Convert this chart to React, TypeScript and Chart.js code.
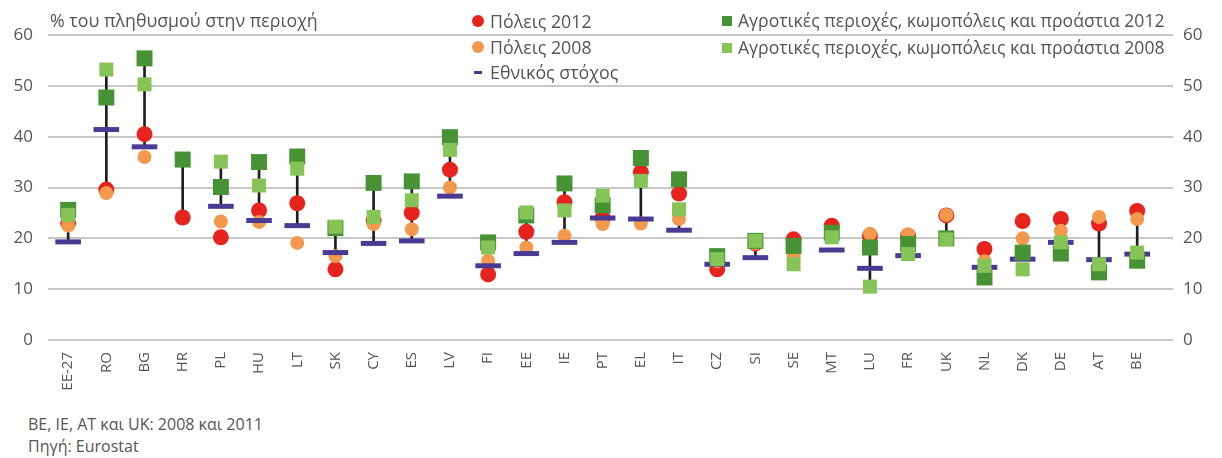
import React, { useEffect, useRef } from "react";
import { Chart, registerables } from "chart.js";

Chart.register(...registerables);

const categories = ["EE-27", "RO", "BG", "HR", "PL", "HU", "LT", "SK", "CY", "ES", "LV", "FI", "EE", "IE", "PT", "EL", "IT", "CZ", "SI", "SE", "MT", "LU", "FR", "UK", "NL", "DK", "DE", "AT", "BE"];

const cities2012 = [23.0, 29.6, 40.5, 24.1, 20.2, 25.5, 26.9, 13.9, 23.5, 25.0, 33.5, 12.9, 21.3, 27.1, 24.0, 33.0, 28.8, 13.9, 19.0, 19.8, 22.5, 20.5, 20.5, 24.5, 17.9, 23.4, 23.8, 22.9, 25.4];
const cities2008 = [22.5, 28.9, 36.0, null, 23.3, 23.2, 19.1, 16.5, 22.8, 21.8, 30.0, 15.6, 18.2, 20.5, 22.8, 22.9, 23.8, 15.5, 19.0, 16.6, 21.0, 20.9, 20.8, 24.6, 15.5, 20.0, 21.5, 24.2, 23.8];
const rural2012 = [25.6, 47.7, 55.4, 35.5, 30.1, 35.0, 36.1, 22.0, 30.9, 31.2, 39.9, 19.2, 24.5, 30.8, 26.5, 35.8, 31.6, 16.5, 19.5, 18.5, 21.1, 18.2, 18.9, 20.0, 12.3, 17.2, 17.0, 13.3, 15.6];
const rural2008 = [24.6, 53.2, 50.3, null, 35.1, 30.4, 33.7, 22.3, 24.2, 27.5, 37.4, 18.2, 25.1, 25.5, 28.4, 31.3, 25.7, 15.9, 19.5, 14.9, 20.2, 10.5, 16.9, 19.8, 14.6, 13.9, 19.2, 14.9, 17.2];
const nationalTarget = [19.3, 41.4, 38.0, null, 26.3, 23.5, 22.5, 17.2, 19.0, 19.5, 28.3, 14.6, 17.0, 19.2, 24.0, 23.8, 21.6, 14.9, 16.2, null, 17.7, 14.1, 16.6, null, 14.3, 15.9, 19.2, 15.8, 16.9];

const rangeLow = [19.3, 29.0, 38.0, 24.1, 26.3, 23.5, 22.5, 17.2, 19.0, 19.5, 28.3, 14.6, 17.0, 19.2, 24.0, 23.8, 21.6, null, 16.2, null, null, 10.5, null, 19.8, null, null, null, 15.8, 16.9];
const rangeHigh = [25.6, 53.2, 55.4, 35.5, 35.1, 35.0, 36.1, 22.4, 30.9, 31.2, 39.9, 19.2, 25.1, 30.8, 28.4, 31.3, 25.7, null, 19.5, null, null, 18.2, null, 24.6, null, null, null, 22.9, 23.8];

const yTicks = [0, 10, 20, 30, 40, 50, 60];

const titleText = "% του πληθυσμού στην περιοχή";
const legendCities2012 = "Πόλεις 2012";
const legendCities2008 = "Πόλεις 2008";
const legendTarget = "Εθνικός στόχος";
const legendRural2012 = "Αγροτικές περιοχές, κωμοπόλεις και προάστια 2012";
const legendRural2008 = "Αγροτικές περιοχές, κωμοπόλεις και προάστια 2008";
const note1 = "BE, IE, AT και UK: 2008 και 2011";
const note2 = "Πηγή: Eurostat";

const FONT = "'Open Sans', 'DejaVu Sans', sans-serif";
const TEXT = "#555555";
const RED = "#e6231d";
const ORANGE = "#f2994e";
const DARK_GREEN = "#479234";
const LIGHT_GREEN = "#86c457";
const NAVY = "#4b3a93";

const toPoints = (arr: (number | null)[]) =>
  arr.map((v, i) => ({ x: i, y: v }));

export default function App() {
  const ref = useRef<HTMLCanvasElement>(null);

  useEffect(() => {
    document.body.style.margin = "0";
    const rangeData: any[] = [];
    categories.forEach((_, i) => {
      if (rangeLow[i] != null && rangeHigh[i] != null) {
        rangeData.push({ x: i, y: [rangeLow[i], rangeHigh[i]] });
      }
    });
    const chart = new Chart(ref.current as HTMLCanvasElement, {
      type: "scatter",
      data: {
        datasets: [
          {
            type: "bar",
            data: rangeData,
            backgroundColor: "#1e1e1e",
            barThickness: 2,
            order: 6,
          } as any,
          {
            data: toPoints(cities2012),
            pointStyle: "circle",
            pointRadius: 8,
            backgroundColor: RED,
            borderColor: RED,
            borderWidth: 0,
            order: 5,
          },
          {
            data: toPoints(cities2008),
            pointStyle: "circle",
            pointRadius: 7,
            backgroundColor: ORANGE,
            borderColor: ORANGE,
            borderWidth: 0,
            order: 4,
          },
          {
            data: toPoints(nationalTarget),
            pointStyle: "line",
            pointRadius: 12.8,
            backgroundColor: NAVY,
            borderColor: NAVY,
            borderWidth: 5,
            order: 3,
          },
          {
            data: toPoints(rural2012),
            pointStyle: "rect",
            pointRadius: 11.3,
            backgroundColor: DARK_GREEN,
            borderColor: DARK_GREEN,
            borderWidth: 0,
            order: 2,
          },
          {
            data: toPoints(rural2008),
            pointStyle: "rect",
            pointRadius: 9.9,
            backgroundColor: LIGHT_GREEN,
            borderColor: LIGHT_GREEN,
            borderWidth: 0,
            order: 1,
          },
        ],
      },
      options: {
        responsive: false,
        animation: false,
        layout: { padding: { top: 35, left: 0, right: 0, bottom: 0 } },
        plugins: { legend: { display: false }, tooltip: { enabled: false } },
        scales: {
          x: {
            type: "linear",
            min: -0.02,
            max: 28.43,
            grid: { display: false, drawTicks: false },
            border: { display: false },
            afterBuildTicks: (s: any) => {
              s.ticks = categories.map((_, i) => ({ value: i }));
            },
            afterFit: (s: any) => {
              s.height = 60;
            },
            ticks: {
              autoSkip: false,
              minRotation: 90,
              maxRotation: 90,
              padding: 12,
              color: TEXT,
              font: { family: FONT, size: 15 },
              callback: (v: any) => categories[v as number] ?? "",
            },
          },
          y: {
            position: "left",
            min: 0,
            max: 60,
            afterBuildTicks: (s: any) => {
              s.ticks = yTicks.map((v) => ({ value: v }));
            },
            afterFit: (s: any) => {
              s.width = 48;
            },
            ticks: { padding: 15, color: TEXT, font: { family: FONT, size: 17 } },
            grid: { color: "#c8c8c8", lineWidth: 2, drawTicks: false },
            border: { display: false },
          },
          y2: {
            position: "right",
            min: 0,
            max: 60,
            afterBuildTicks: (s: any) => {
              s.ticks = yTicks.map((v) => ({ value: v }));
            },
            afterFit: (s: any) => {
              s.width = 49;
            },
            ticks: { padding: 10, color: TEXT, font: { family: FONT, size: 17 } },
            grid: { display: false, drawTicks: false },
            border: { display: false },
          },
        },
      },
    });
    return () => chart.destroy();
  }, []);

  const txt: React.CSSProperties = {
    position: "absolute",
    fontFamily: FONT,
    color: TEXT,
    fontSize: 17.8,
    lineHeight: "22px",
    whiteSpace: "nowrap",
  };
  const dot = (color: string, cx: number, cy: number, d: number): React.CSSProperties => ({
    position: "absolute",
    left: cx - d / 2,
    top: cy - d / 2,
    width: d,
    height: d,
    borderRadius: "50%",
    background: color,
  });
  const sq = (color: string, cx: number, cy: number, d: number): React.CSSProperties => ({
    position: "absolute",
    left: cx - d / 2,
    top: cy - d / 2,
    width: d,
    height: d,
    background: color,
  });

  return (
    <div style={{ position: "fixed", left: 0, top: 0, width: 1222, height: 458, background: "#fff", overflow: "hidden" }}>
      <canvas ref={ref} width={1222} height={400} style={{ position: "absolute", left: 0, top: 0 }} />
      <div style={{ ...txt, left: 50, top: 9 }}>{titleText}</div>

      <div style={dot(RED, 478, 21, 12)} />
      <div style={{ ...txt, left: 490, top: 10 }}>{legendCities2012}</div>
      <div style={dot(ORANGE, 478, 47, 12)} />
      <div style={{ ...txt, left: 490, top: 36 }}>{legendCities2008}</div>
      <div style={{ position: "absolute", left: 474, top: 71, width: 8, height: 2.5, background: NAVY }} />
      <div style={{ ...txt, left: 490, top: 61 }}>{legendTarget}</div>

      <div style={sq(DARK_GREEN, 727, 21, 10)} />
      <div style={{ ...txt, left: 738, top: 9, fontSize: 17.6 }}>{legendRural2012}</div>
      <div style={sq(LIGHT_GREEN, 727, 48, 10)} />
      <div style={{ ...txt, left: 738, top: 36, fontSize: 17.6 }}>{legendRural2008}</div>

      <div style={{ ...txt, left: 28, top: 413, fontSize: 16 }}>{note1}</div>
      <div style={{ ...txt, left: 28, top: 435, fontSize: 16 }}>{note2}</div>
    </div>
  );
}
